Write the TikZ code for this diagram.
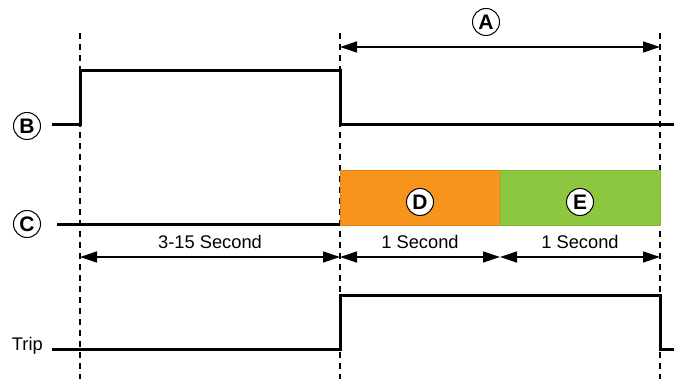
\documentclass[tikz,border=0pt]{standalone}
\usepackage{fontspec}
\setmainfont{Liberation Sans}
\usetikzlibrary{arrows.meta}
\definecolor{dorange}{HTML}{F7941D}
\definecolor{dorangeb}{HTML}{E0801A}
\definecolor{dgreen}{HTML}{8DC63F}
\definecolor{dgreenb}{HTML}{7DB836}
\begin{document}
\begin{tikzpicture}[x=1pt,y=-1pt,
  sig/.style={line width=3pt, line join=miter},
  guide/.style={line width=1.2pt, dash pattern=on 6pt off 5pt},
  dim/.style={line width=1.3pt, {Triangle[length=17pt,width=11pt]}-{Triangle[length=17pt,width=11pt]}},
  lbl/.style={circle, draw, line width=1pt, minimum size=27pt, inner sep=0pt, fill=white,
              font=\fontsize{21}{22}\selectfont\bfseries},
  txt/.style={font=\fontsize{18.3}{20}\selectfont, inner sep=0pt},
  phase/.style={draw, line width=0.8pt, minimum width=160pt, minimum height=55pt, inner sep=0pt}]
\useasboundingbox (0,0) rectangle (674,379);

% guide lines
\coordinate (g1t) at (80,33);  \coordinate (g1b) at (80,379);
\coordinate (g2t) at (340,33); \coordinate (g2b) at (340,379);
\coordinate (g3t) at (660,33); \coordinate (g3b) at (660,379);
\draw[guide] (g1t) -- (g1b);
\draw[guide] (g2t) -- (g2b);
\draw[guide] (g3t) -- (g3b);

% phase boxes
\node[phase, draw=dorangeb, fill=dorange] (Dbox) at (420,197.5) {};
\node[phase, draw=dgreenb, fill=dgreen] (Ebox) at (580,197.5) {};

% signals
\coordinate (Bs) at (52,125);
\coordinate (Be) at (674,125);
\draw[sig] (Bs) -- (80,125) -- (80,71) -- (340,71) -- (340,125) -- (Be);
\coordinate (Cs) at (57,224.5);
\coordinate (Ce) at (340,224.5);
\draw[sig] (Cs) -- (Ce);
\coordinate (Ts) at (52,349);
\coordinate (Te) at (674,349);
\draw[sig] (Ts) -- (340,349) -- (340,295) -- (660,295) -- (660,349) -- (Te);

% labels
\node[lbl] (B) at (27,126) {B};
\node[lbl] (C) at (27,224) {C};
\node[lbl] (A) at (486,22) {A};
\node[lbl] (D) at (420,202) {D};
\node[lbl] (E) at (580,202) {E};
\node[txt, anchor=east] (trip) at (43,346) {Trip};

% dimensions
\coordinate (a1) at (340,47);  \coordinate (a2) at (660,47);
\draw[dim] (a1) -- (a2);
\coordinate (d1) at (80,257);  \coordinate (d2) at (340,257);
\coordinate (d3) at (500,257); \coordinate (d4) at (660,257);
\draw[dim] (d1) -- (d2);
\draw[dim] (d2) -- (d3);
\draw[dim] (d3) -- (d4);
\node[txt] (t1) at (210,242) {3-15 Second};
\node[txt] (t2) at (420,242) {1 Second};
\node[txt] (t3) at (580,242) {1 Second};
\end{tikzpicture}
\end{document}
